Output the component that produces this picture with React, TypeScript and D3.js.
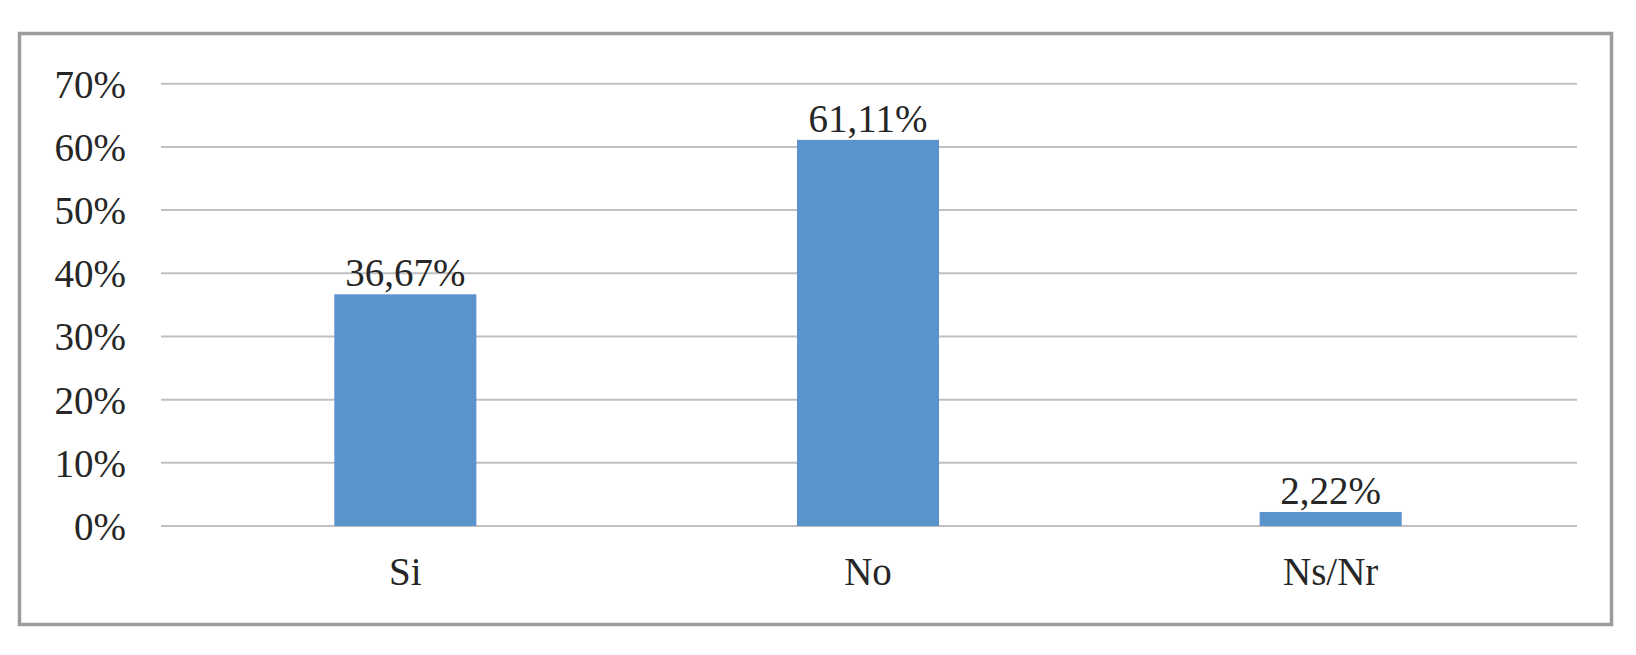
import React, { useEffect, useRef } from 'react';
import * as d3 from 'd3';

const categories = ['Si', 'No', 'Ns/Nr'];
const values = [36.67, 61.11, 2.22];
const valueLabels = ['36,67%', '61,11%', '2,22%'];
const yTicks = [0, 10, 20, 30, 40, 50, 60, 70];

const W = 1636;
const H = 655;
const FONT = '"Liberation Serif", "DejaVu Serif", serif';

export default function App() {
  const svgRef = useRef<SVGSVGElement>(null);

  useEffect(() => {
    if (!svgRef.current) return;
    const svg = d3.select(svgRef.current);
    svg.selectAll('*').remove();

    svg.append('rect')
      .attr('width', W)
      .attr('height', H)
      .attr('fill', '#ffffff');

    // outer chart frame
    svg.append('rect')
      .attr('x', 19.5)
      .attr('y', 33.5)
      .attr('width', 1592)
      .attr('height', 591)
      .attr('fill', 'none')
      .attr('stroke', '#9a9d9e')
      .attr('stroke-width', 3.5);

    const y = d3.scaleLinear().domain([0, 70]).range([526, 83.7]);
    const x = d3.scaleBand<string>()
      .domain(categories)
      .range([174, 1562])
      .paddingInner(0.693)
      .paddingOuter(0.3465);

    // gridlines
    svg.append('g')
      .selectAll('line')
      .data(yTicks)
      .join('line')
      .attr('x1', 161)
      .attr('x2', 1577)
      .attr('y1', d => y(d))
      .attr('y2', d => y(d))
      .attr('stroke', '#c0c0c0')
      .attr('stroke-width', 2);

    // y tick labels
    svg.append('g')
      .selectAll('text')
      .data(yTicks)
      .join('text')
      .attr('x', 126)
      .attr('y', d => y(d) + 14)
      .attr('text-anchor', 'end')
      .attr('font-family', FONT)
      .attr('font-size', 39)
      .attr('fill', '#262626')
      .text(d => `${d}%`);

    // bars
    svg.append('g')
      .selectAll('rect')
      .data(values)
      .join('rect')
      .attr('x', (_, i) => x(categories[i])!)
      .attr('y', d => y(d))
      .attr('width', x.bandwidth())
      .attr('height', d => y(0) - y(d))
      .attr('fill', '#5b94cd');

    // value labels
    svg.append('g')
      .selectAll('text')
      .data(values)
      .join('text')
      .attr('x', (_, i) => x(categories[i])! + x.bandwidth() / 2)
      .attr('y', d => y(d) - 8)
      .attr('text-anchor', 'middle')
      .attr('font-family', FONT)
      .attr('font-size', 39)
      .attr('fill', '#262626')
      .text((_, i) => valueLabels[i]);

    // category labels
    svg.append('g')
      .selectAll('text')
      .data(categories)
      .join('text')
      .attr('x', d => x(d)! + x.bandwidth() / 2)
      .attr('y', 585)
      .attr('text-anchor', 'middle')
      .attr('font-family', FONT)
      .attr('font-size', 39)
      .attr('fill', '#262626')
      .text(d => d);
  }, []);

  return (
    <div style={{ position: 'absolute', left: 0, top: 0 }}>
      <svg ref={svgRef} width={W} height={H} style={{ display: 'block' }} />
    </div>
  );
}
